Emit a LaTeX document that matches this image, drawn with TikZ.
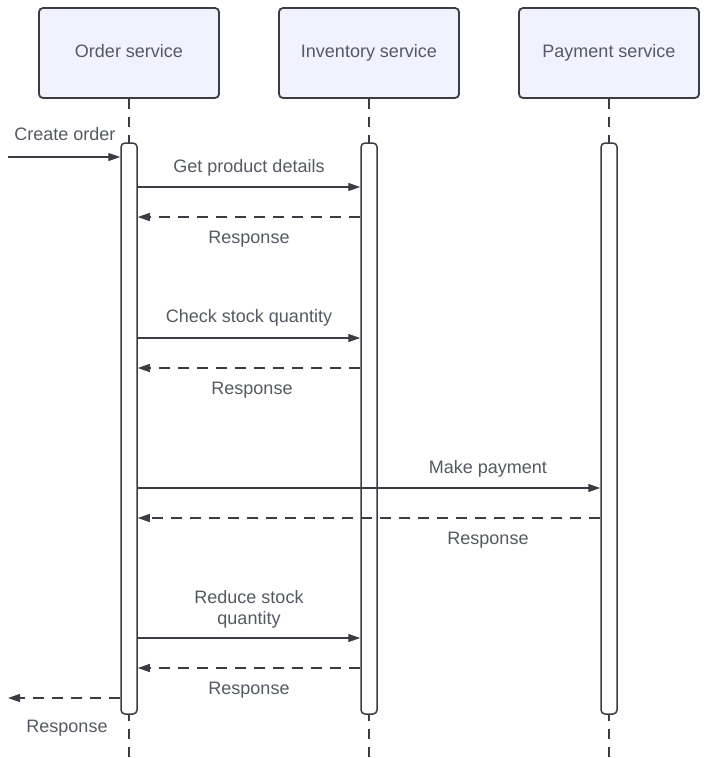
\documentclass[tikz,border=0pt]{standalone}
\usepackage{fontspec}
\setmainfont{Liberation Sans}
\usetikzlibrary{arrows.meta}
\definecolor{lineC}{HTML}{3A3D44}
\definecolor{textC}{HTML}{555962}
\definecolor{boxF}{HTML}{F2F2FF}
\tikzset{
  actor/.style={draw=lineC, line width=1.8pt, fill=boxF, rounded corners=4pt,
    minimum width=180pt, minimum height=90pt, inner sep=0pt, text=textC,
    text height=13pt, text depth=4pt,
    font=\fontsize{18}{21}\selectfont},
  bar/.style={draw=lineC, line width=1.5pt, fill=white, rounded corners=4pt,
    minimum width=16pt, minimum height=571pt, inner sep=0pt},
  life/.style={draw=lineC, line width=1.5pt, dash pattern=on 10pt off 8pt},
  msg/.style={draw=lineC, line width=1.3pt, -{Triangle[length=12pt,width=8pt]}},
  ret/.style={msg, dash pattern=on 11pt off 8pt},
  lbl/.style={text=textC, font=\fontsize{18}{21}\selectfont, inner sep=0pt, align=center},
  lbl1/.style={lbl, text height=13pt, text depth=4pt},
}
\begin{document}
\begin{tikzpicture}[x={(1pt,0)}, y={(0,-1pt)}]
\useasboundingbox (0,0) rectangle (706,758);
% actors
\node[actor] (ord) at (129,53) {Order service};
\node[actor] (inv) at (369,53) {Inventory service};
\node[actor] (pay) at (609,53) {Payment service};
% lifeline ends
\coordinate (oend) at (129,758);
\coordinate (iend) at (369,758);
\coordinate (pend) at (609,758);
\draw[life] (ord.south) -- (oend);
\draw[life] (inv.south) -- (iend);
\draw[life] (pay.south) -- (pend);
% activation bars
\node[bar] (obar) at (129,428.5) {};
\node[bar] (ibar) at (369,428.5) {};
\node[bar] (pbar) at (609,428.5) {};
% external ends
\coordinate (inA) at (8,157);
\coordinate (outA) at (8,698);
% messages
\draw[msg] (inA) -- (obar.west |- inA);
\node[lbl1] (l0) at (65,136) {Create order};

\draw[msg] (obar.east |- 0,187) -- (ibar.west |- 0,187);
\node[lbl1] (l1) at (249,168) {Get product details};
\draw[ret] (ibar.west |- 0,217) -- (obar.east |- 0,217);
\node[lbl1] (l2) at (249,239) {Response};

\draw[msg] (obar.east |- 0,338) -- (ibar.west |- 0,338);
\node[lbl1] (l3) at (249,318) {Check stock quantity};
\draw[ret] (ibar.west |- 0,368) -- (obar.east |- 0,368);
\node[lbl1] (l4) at (252,390) {Response};

\draw[msg] (obar.east |- 0,488) -- (pbar.west |- 0,488);
\node[lbl1] (l5) at (488,469) {Make payment};
\draw[ret] (pbar.west |- 0,518) -- (obar.east |- 0,518);
\node[lbl1] (l6) at (488,540) {Response};

\draw[msg] (obar.east |- 0,638) -- (ibar.west |- 0,638);
\node[lbl] (l7) at (249,609.5) {Reduce stock\\quantity};
\draw[ret] (ibar.west |- 0,668) -- (obar.east |- 0,668);
\node[lbl1] (l8) at (249,690) {Response};

\draw[ret] (obar.west |- outA) -- (outA);
\node[lbl1] (l9) at (67,728) {Response};
\end{tikzpicture}
\end{document}
